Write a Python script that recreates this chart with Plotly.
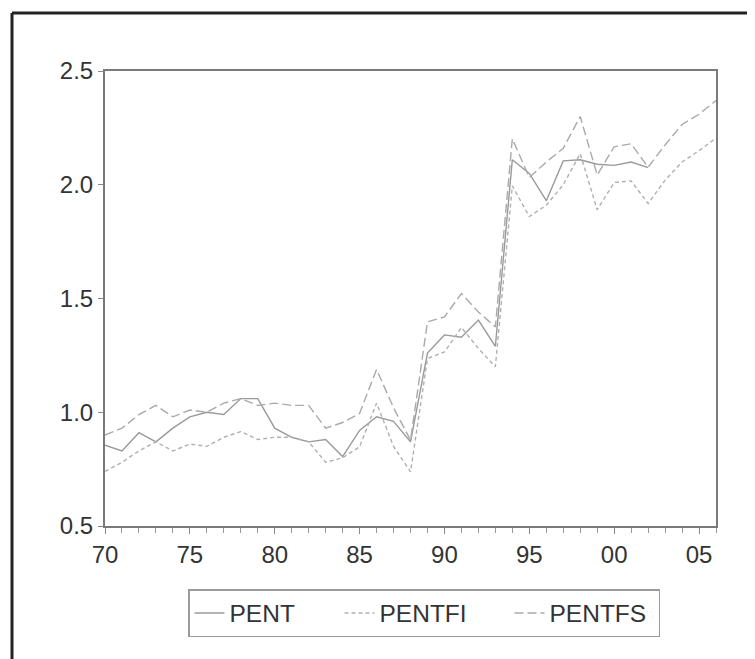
import plotly.graph_objects as go

years = list(range(1970, 2007))

pent = [0.855, 0.83, 0.91, 0.87, 0.93, 0.98, 1.00, 0.99, 1.06, 1.06,
        0.93, 0.89, 0.87, 0.88, 0.805, 0.92, 0.98, 0.96, 0.87, 1.26,
        1.34, 1.33, 1.405, 1.29, 2.11, 2.05, 1.93, 2.105, 2.11, 2.09,
        2.085, 2.10, 2.075, None, None, None, None]

pentfi = [0.74, 0.78, 0.83, 0.87, 0.83, 0.86, 0.85, 0.89, 0.915, 0.88,
          0.89, 0.89, 0.87, 0.78, 0.80, 0.848, 1.04, 0.85, 0.738, 1.236,
          1.265, 1.373, 1.28, 1.20, 1.995, 1.86, 1.91, 2.00, 2.137, 1.89,
          2.01, 2.017, 1.917, 2.02, 2.10, 2.15, 2.205]

pentfs = [0.90, 0.93, 0.99, 1.03, 0.98, 1.01, 1.00, 1.04, 1.06, 1.03,
          1.04, 1.03, 1.03, 0.93, 0.955, 0.995, 1.188, 1.02, 0.877, 1.397,
          1.419, 1.522, 1.441, 1.375, 2.202, 2.032, 2.10, 2.16, 2.30, 2.043,
          2.167, 2.18, 2.077, 2.175, 2.265, 2.31, 2.37]

x_tick_vals = [1970, 1975, 1980, 1985, 1990, 1995, 2000, 2005]
x_tick_text = ["70", "75", "80", "85", "90", "95", "00", "05"]
y_tick_vals = [0.5, 1.0, 1.5, 2.0, 2.5]
y_tick_text = ["0.5", "1.0", "1.5", "2.0", "2.5"]

FONT = "Liberation Sans, Arial, sans-serif"

fig = go.Figure()
fig.add_trace(go.Scatter(x=years, y=pent, name="PENT", mode="lines",
                         line=dict(color="#9a9a9a", width=1.4, dash="solid"),
                         legendwidth=105))
fig.add_trace(go.Scatter(x=years, y=pentfi, name="PENTFI", mode="lines",
                         line=dict(color="#b0b0b0", width=1.4, dash="4px,3px"),
                         legendwidth=125))
fig.add_trace(go.Scatter(x=years, y=pentfs, name="PENTFS", mode="lines",
                         line=dict(color="#aaaaaa", width=1.4, dash="9px,4px"),
                         legendwidth=104))

# page body adds an 8px offset, so work in page pixels minus 8
OFF = 8
W, H = 755 - OFF, 659 - OFF
L, R, T, B = 105 - OFF, 716 - OFF, 71 - OFF, 526 - OFF
pw, ph = R - L, B - T

def px_x(p):
    return (p - OFF - L) / pw

def px_y(p):
    return (B - (p - OFF)) / ph

fig.update_layout(
    width=W, height=H,
    margin=dict(l=L, r=W - R, t=T, b=H - B),
    paper_bgcolor="white", plot_bgcolor="white",
    font=dict(family=FONT, size=24, color="#333333"),
    showlegend=True,
    legend=dict(orientation="h", x=px_x(424), xanchor="center",
                y=px_y(589), yanchor="top",
                bordercolor="#9a9a9a", borderwidth=1.5,
                font=dict(family=FONT, size=24.5, color="#333333"),
                bgcolor="white"),
    xaxis=dict(range=[1970, 2006], tickmode="array", tickvals=x_tick_vals,
               ticktext=x_tick_text, ticks="outside", ticklen=6, tickwidth=1,
               tickcolor="#888888", showgrid=False, zeroline=False,
               showline=True, linecolor="#7a7a7a", linewidth=2, mirror=True,
               minor=dict(dtick=1, ticks="outside", ticklen=5, tickcolor="#999999",
                          showgrid=False),
               tickfont=dict(size=24, color="#333333")),
    yaxis=dict(range=[0.5, 2.5], tickmode="array", tickvals=y_tick_vals,
               ticktext=y_tick_text, ticks="outside", ticklen=5, tickwidth=1,
               tickcolor="#888888", showgrid=False, zeroline=False,
               showline=True, linecolor="#7a7a7a", linewidth=2, mirror=True,
               tickfont=dict(size=24, color="#333333")),
)

# outer frame (left and top edges visible in the reference)
fig.add_shape(type="line", xref="paper", yref="paper",
              x0=px_x(12), x1=px_x(760), y0=px_y(13), y1=px_y(13),
              line=dict(color="#222222", width=3))
fig.add_shape(type="line", xref="paper", yref="paper",
              x0=px_x(12), x1=px_x(12), y0=px_y(13), y1=px_y(665),
              line=dict(color="#222222", width=3))

fig.write_html("out.html")
